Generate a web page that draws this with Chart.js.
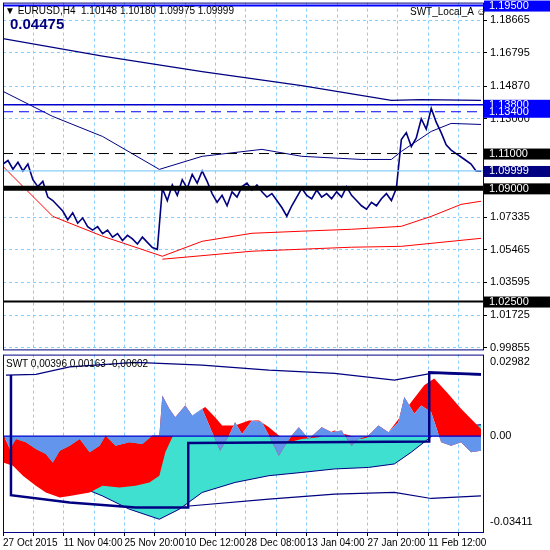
<!DOCTYPE html>
<html>
<head>
<meta charset="utf-8">
<script src="https://cdn.jsdelivr.net/npm/chart.js@4.4.1/dist/chart.umd.min.js"></script>
<style>
body { margin: 0; background: #fff; width: 550px; height: 550px; position: relative; overflow: hidden; font-family: "Liberation Sans", Arial, sans-serif; }
#top { position: absolute; left: 0; top: -7px; }
#bottom { position: absolute; left: 0; top: 345px; }
.lbl { position: absolute; font-size: 10px; color: #000; white-space: nowrap; }
</style>
</head>
<body>
<canvas id="top" width="550" height="366"></canvas>
<canvas id="bottom" width="550" height="205"></canvas>
<div class="lbl" style="left:5px;top:5px">&#9660; EURUSD,H4&nbsp; 1.10148 1.10180 1.09975 1.09999</div>
<div class="lbl" style="left:10px;top:15px;font-size:15px;font-weight:bold;color:#000080">0.04475</div>
<div class="lbl" style="left:410px;top:6px">SWT_Local_A &#9786;</div>
<div class="lbl" style="left:6px;top:358px">SWT 0,00396 0,00163 -0,00602</div>
<script>
// price panel data (x = bar position along the chart)
const priceStep = 5
const prices = [1.104,1.106,1.101,1.105,1.100,1.104,1.095,1.091,1.094,1.085,1.083,1.080,1.077,1.072,1.076,1.070,1.073,1.068,1.066,1.068,1.064,1.066,1.062,1.064,1.060,1.063,1.061,1.058,1.062,1.059,1.056,1.055,
  1.090,1.083,1.092,1.086,1.095,1.090,1.098,1.093,1.100,1.094,1.087,1.082,1.086,1.080,1.088,1.085,1.091,1.093,1.089,1.092,1.088,1.085,1.087,1.083,1.079,1.074,1.080,1.085,1.090,1.086,1.084,1.089,1.085,1.087,1.084,1.088,1.085,1.091,1.086,1.083,1.080,1.078,1.082,1.080,1.084,1.087,1.083,1.090,
  1.118,1.122,1.114,1.119,1.130,1.124,1.136,1.128,1.122,1.115,1.112,1.110,1.108,1.106,1.104,1.100,1.0999]
const maSlow = [[0,1.176],[100,1.166],[200,1.157],[300,1.149],[390,1.1405],[420,1.141],[480,1.1405]]
const maMid = [[0,1.1457],[50,1.1313],[100,1.1198],[157,1.1009],[200,1.1084],[260,1.1124],[300,1.1084],[360,1.1066],[390,1.1066],[400,1.1112],[430,1.1227],[450,1.1273],[480,1.1267]]
const redUpper = [[0,1.1026],[50,1.0739],[100,1.0625],[160,1.051],[200,1.0596],[250,1.0642],[300,1.0654],[350,1.0665],[400,1.0682],[430,1.0739],[460,1.0808],[480,1.0826]]
const redLower = [[160,1.0493],[250,1.0539],[350,1.0562],[400,1.0567],[480,1.0613]]
const priceTicks = [1.18665,1.16795,1.14870,1.13000,1.07335,1.05465,1.03595,1.01725,0.99855]
const levels = [
  { v: 1.195, color: "#0000ff", width: 2, dash: [], bg: "#0000ff", text: "1.19500" },
  { v: 1.138, color: "#0000cd", width: 1.5, dash: [], bg: "#0000ff", text: "1.13800" },
  { v: 1.134, color: "#0000ff", width: 1.2, dash: [10, 6], bg: "#0000ff", text: "1.13400" },
  { v: 1.11, color: "#000", width: 1, dash: [10, 6], bg: "#000", text: "1.11000" },
  { v: 1.09999, color: "#87cefa", width: 1.2, dash: [], bg: "#000080", text: "1.09999" },
  { v: 1.09, color: "#000", width: 5, dash: [], bg: "#000", text: "1.09000" },
  { v: 1.025, color: "#000", width: 2, dash: [], bg: "#000", text: "1.02500" }
]

// SWT panel data
const swtMain = [[0,0.0009],[7,-0.0051],[13,-0.0011],[23,-0.0024],[33,-0.0051],[43,-0.0071],[50,-0.0105],[57,-0.0058],[67,-0.0038],[77,-0.0011],[87,-0.0064],[97,-0.0038],[103,0.0003],[113,-0.0038],[127,-0.0024],[140,-0.0031],[150,0.0003],[157,0.0003],[160,0.0163],[167,0.011],[173,0.0076],[183,0.0123],[190,0.0083],[200,0.011],[210,0.0016],[218,-0.0058],[227,0.0003],[233,0.0056],[240,0.0009],[250,0.0063],[260,0.0056],[267,0.0003],[277,-0.0078],[283,-0.0038],[290,0.0003],[297,0.0036],[307,-0.0011],[320,0.0036],[330,0.0016],[340,0.0023],[350,-0.0038],[357,-0.0011],[367,0.0003],[377,0.0043],[387,0.0016],[397,0.0056],[403,0.0157],[413,0.009],[420,0.0123],[430,0.0096],[440,-0.0024],[450,-0.0038],[460,-0.0024],[470,-0.0064],[480,-0.0058]]
const swtSignal = [[0,-0.0105],[10,-0.0118],[20,-0.0158],[33,-0.0198],[43,-0.0225],[57,-0.0245],[67,-0.0239],[87,-0.0225],[100,-0.0198],[117,-0.0205],[133,-0.0198],[147,-0.0185],[157,-0.0158],[163,-0.0064],[170,-0.0004],[180,0.007],[190,0.0083],[203,0.0117],[213,0.0076],[220,0.0043],[233,0.0043],[247,0.0063],[257,0.0063],[267,0.0036],[277,0.0003],[287,-0.0024],[300,-0.0011],[317,-0.0004],[333,0.0023],[343,0.0009],[360,-0.0011],[373,0.0003],[387,0.0016],[400,0.0083],[410,0.0137],[423,0.0204],[433,0.023],[447,0.017],[460,0.011],[480,0.0029]]
const swtTrend = [[0,0],[33,-0.0105],[67,-0.0185],[100,-0.0239],[127,-0.0292],[157,-0.0332],[177,-0.0292],[200,-0.0225],[233,-0.0185],[267,-0.0158],[300,-0.0145],[333,-0.0131],[367,-0.0125],[393,-0.0111],[410,-0.0064],[427,-0.0011],[433,0.0009],[453,0.0036],[480,0.0046]]
const bandUpper = [[3,0.0244],[33,0.0247],[67,0.0277],[133,0.0295],[200,0.0284],[267,0.0264],[333,0.0251],[393,0.0224],[430,0.0251],[480,0.0244]]
const bandLower = [[187,-0.0279],[267,-0.0252],[333,-0.0232],[393,-0.0225],[430,-0.0249],[480,-0.0239]]
const stepLine = [[8,0.0244],[8,-0.0236],[67,-0.0265],[133,-0.0285],[186,-0.0285],[186,-0.0027],[428,-0.0021],[428,0.0255],[480,0.0247]]
const swtTicks = [0.02982, 0, -0.03411]
const timeLabels = ["27 Oct 2015","11 Nov 04:00","25 Nov 20:00","10 Dec 12:00","28 Dec 08:00","13 Jan 04:00","27 Jan 20:00","11 Feb 12:00"]
const gridStep = 30.5

const navy = "#000080"
const pts = arr => arr.map(p => ({ x: p[0], y: p[1] }))
const line = (data, color, width, extra) => ({ type: "line", data: pts(data), borderColor: color, borderWidth: width, pointRadius: 0, tension: 0, fill: false, order: 0, ...extra })

const xGrid = scale => {
  scale.ticks = []
  for (let v = 0; v < 482; v += gridStep) scale.ticks.push({ value: v })
}

const frame = {
  id: "frame",
  afterDraw: chart => {
    let { ctx, chartArea: a } = chart
    ctx.save()
    ctx.strokeStyle = navy
    ctx.lineWidth = 1
    ctx.strokeRect(a.left + 0.5, a.top + 0.5, a.right - a.left, a.bottom - a.top)
    ctx.restore()
  }
}

const levelLines = {
  id: "levelLines",
  afterDatasetsDraw: chart => {
    let { ctx, chartArea: a, scales } = chart
    ctx.save()
    ctx.font = "11px 'Liberation Sans'"
    ctx.textBaseline = "middle"
    levels.forEach(l => {
      let y = scales.y.getPixelForValue(l.v)
      ctx.strokeStyle = l.color
      ctx.lineWidth = l.width
      ctx.setLineDash(l.dash)
      ctx.beginPath()
      ctx.moveTo(a.left, y)
      ctx.lineTo(a.right, y)
      ctx.stroke()
      ctx.setLineDash([])
      ctx.fillStyle = l.bg
      ctx.fillRect(a.right + 1, y - 5, 549 - a.right, 11)
      ctx.fillStyle = "#fff"
      ctx.fillText(l.text, a.right + 6, y + 0.5)
    })
    ctx.restore()
  }
}

const gridCfg = { color: "#87cefa", lineWidth: 1, tickLength: 4, tickColor: "#000" }

new Chart(document.getElementById("top"), {
  type: "line",
  data: {
    datasets: [
      line(maSlow, navy, 1.2),
      line(maMid, navy, 1),
      line(redUpper, "#ff0000", 1),
      line(redLower, "#ff0000", 1),
      line(prices.map((p, i) => [i * priceStep, p]), navy, 1.6)
    ]
  },
  options: {
    animation: false,
    responsive: false,
    layout: { padding: { left: 3, top: 1, bottom: 1, right: 0 } },
    plugins: { legend: { display: false }, tooltip: { enabled: false } },
    scales: {
      x: {
        type: "linear", min: 0, max: 482, display: true,
        afterBuildTicks: xGrid,
        ticks: { display: false },
        grid: { ...gridCfg, drawTicks: false },
        border: { display: false, dash: [3, 3] }
      },
      y: {
        position: "right", min: 0.9975, max: 1.1967,
        afterBuildTicks: scale => { scale.ticks = priceTicks.map(v => ({ value: v })) },
        afterFit: scale => { scale.width = 67 },
        ticks: { font: { family: "Liberation Sans", size: 11 }, color: "#000", padding: 3, callback: v => v.toFixed(5) },
        grid: gridCfg,
        border: { display: false, dash: [3, 3] }
      }
    }
  },
  plugins: [levelLines, frame]
})

new Chart(document.getElementById("bottom"), {
  type: "line",
  data: {
    datasets: [
      line(swtTrend, navy, 1, { fill: "origin", backgroundColor: "#40e0d0", order: 6 }),
      line(swtSignal, "#ff0000", 0, { fill: "+1", backgroundColor: "#ff0000", order: 5 }),
      line(swtMain, "#6495ed", 0, { fill: "origin", backgroundColor: "#6495ed", order: 4 }),
      line([[0, 0], [480, 0]], "#0000cd", 1.2),
      line(bandUpper, navy, 1.2),
      line(bandLower, navy, 1.2),
      line(stepLine, navy, 2.5)
    ]
  },
  options: {
    animation: false,
    responsive: false,
    layout: { padding: { left: 3, top: 3, bottom: 0, right: 0 } },
    plugins: { legend: { display: false }, tooltip: { enabled: false }, filler: { drawTime: "beforeDatasetDraw" } },
    scales: {
      x: {
        type: "linear", min: 0, max: 482,
        afterBuildTicks: xGrid,
        ticks: {
          font: { family: "Liberation Sans", size: 10 }, color: "#000", align: "start", maxRotation: 0, autoSkip: false, padding: 1,
          callback: (v, i) => i % 2 === 0 ? timeLabels[i / 2] : ""
        },
        grid: gridCfg,
        border: { display: false, dash: [3, 3] }
      },
      y: {
        position: "right", min: -0.0383, max: 0.0326,
        afterBuildTicks: scale => { scale.ticks = swtTicks.map(v => ({ value: v })) },
        afterFit: scale => { scale.width = 67 },
        ticks: { font: { family: "Liberation Sans", size: 11 }, color: "#000", padding: 3, callback: v => v === 0 ? "0.00" : v.toFixed(5) },
        grid: { display: false, tickLength: 4, tickColor: "#000" },
        border: { display: false }
      }
    }
  },
  plugins: [frame]
})
</script>
</body>
</html>
